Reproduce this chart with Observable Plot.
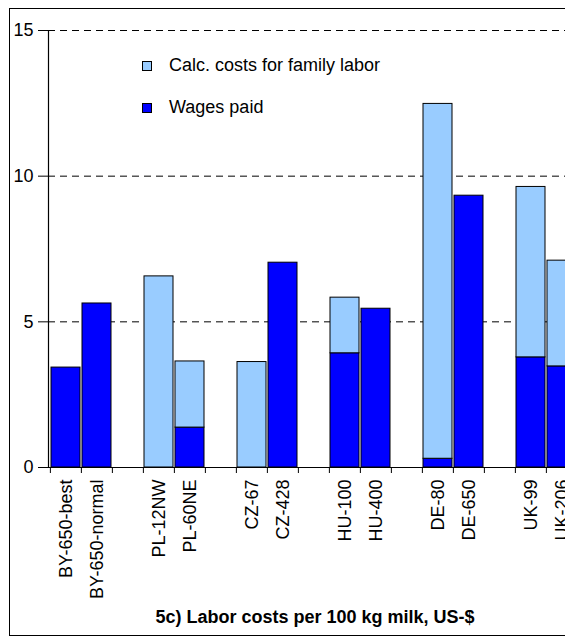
<!DOCTYPE html>
<html><head><meta charset="utf-8">
<script src="https://cdn.jsdelivr.net/npm/d3@7"></script>
<script src="https://cdn.jsdelivr.net/npm/@observablehq/plot@0.6"></script>
<style>
body{margin:0;background:#fff;font-family:"Liberation Sans",Arial,sans-serif;}
#wrap{position:relative;width:565px;height:637px;overflow:hidden;background:#fff;}
#frame{position:absolute;left:9px;top:8px;width:700px;height:628px;border:1px solid #000;box-sizing:border-box;}
#chart{position:absolute;left:0;top:0;width:600px;}
#chart svg{max-width:none !important;}
.lg{position:absolute;left:142px;font-size:18px;color:#000;display:flex;align-items:center;white-space:nowrap;}
.sw{width:8px;height:8px;border:1px solid #000;margin-right:17px;}
#title{position:absolute;left:0;width:630px;top:607px;text-align:center;font-weight:bold;font-size:18px;color:#000;}
</style></head>
<body>
<div id="wrap">
  <div id="frame"></div>
  <div id="chart"></div>
  <div class="lg" style="top:55px"><div class="sw" style="background:#99CCFF"></div><span id="l1"></span></div>
  <div class="lg" style="top:97px"><div class="sw" style="background:#0000FF"></div><span id="l2"></span></div>
  <div id="title"></div>
</div>
<script>
const titleText = "5c) Labor costs per 100 kg milk, US-$";
const seriesNames = ["Wages paid", "Calc. costs for family labor"];
const seriesColors = ["#0000FF", "#99CCFF"];
// "_n" entries are the empty gaps between country groups
const categories = ["BY-650-best","BY-650-normal","_1","PL-12NW","PL-60NE","_2","CZ-67","CZ-428","_3","HU-100","HU-400","_4","DE-80","DE-650","_5","UK-99","UK-206"];
const wagesPaid   = [3.43, 5.63, null, 0,    1.37, null, 0,    7.03, null, 3.92, 5.45, null, 0.30, 9.33, null, 3.78, 3.47];
const familyLabor = [0,    0,    null, 6.56, 2.27, null, 3.62, 0,    null, 1.91, 0,    null, 12.18, 0,   null, 5.85, 3.63];
const yTicks = [0, 5, 10, 15];
const gridTicks = [5, 10, 15];

document.getElementById("title").textContent = titleText;
document.getElementById("l1").textContent = seriesNames[1];
document.getElementById("l2").textContent = seriesNames[0];

const rows = [];
categories.forEach((c, i) => {
  if (wagesPaid[i]) rows.push({cat: c, series: seriesNames[0], value: wagesPaid[i]});
});
categories.forEach((c, i) => {
  if (familyLabor[i]) rows.push({cat: c, series: seriesNames[1], value: familyLabor[i]});
});
rows.sort((a, b) => categories.indexOf(a.cat) - categories.indexOf(b.cat) || seriesNames.indexOf(a.series) - seriesNames.indexOf(b.series));

const W = 600, ML = 48, MR = 21;
const step = (W - ML - MR) / categories.length;

const chart = Plot.plot({
  width: W, height: 600,
  marginLeft: ML, marginRight: MR, marginTop: 30, marginBottom: 133,
  style: {fontFamily: "'Liberation Sans', Arial, sans-serif", fontSize: "18px", color: "#000", background: "transparent", maxWidth: "none"},
  x: {domain: categories, paddingInner: 0.05, paddingOuter: 0.025, label: null},
  y: {domain: [0, 15], label: null},
  color: {domain: seriesNames, range: seriesColors},
  marks: [
    Plot.gridY(gridTicks, {stroke: "#000", strokeOpacity: 1, strokeDasharray: "7,5", strokeWidth: 1}),
    Plot.barY(rows, Plot.stackY({x: "cat", y: "value", fill: "series", stroke: "#000", strokeWidth: 1})),
    Plot.ruleY([0], {stroke: "#000", strokeWidth: 1.2}),
    Plot.frame({anchor: "left", stroke: "#000", strokeWidth: 1.2}),
    Plot.axisY(yTicks, {tickSize: 10, tickPadding: 5, fontSize: 18, stroke: "#000", label: null}),
    Plot.axisX({tickSize: 6, dx: -step / 2, tickFormat: () => "", stroke: "#000", label: null}),
    Plot.axisX({tickSize: 0, tickPadding: 12, tickRotate: -90, fontSize: 18, tickFormat: d => d.startsWith("_") ? "" : d, label: null})
  ]
});
document.getElementById("chart").appendChild(chart);
</script>
</body></html>
